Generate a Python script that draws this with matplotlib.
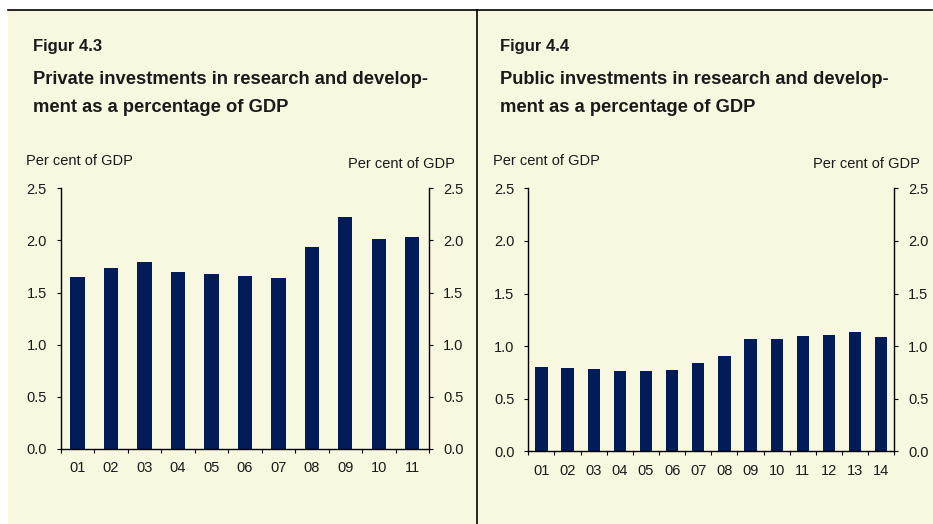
import matplotlib
matplotlib.use("Agg")
import matplotlib.pyplot as plt
from matplotlib.patches import Rectangle
from matplotlib.lines import Line2D

plt.rcParams['font.family'] = ['Liberation Sans', 'DejaVu Sans']

# Data
years_private = ['01', '02', '03', '04', '05', '06', '07', '08', '09', '10', '11']
private_rd = [1.65, 1.74, 1.79, 1.70, 1.68, 1.66, 1.64, 1.94, 2.22, 2.01, 2.03]

years_public = ['01', '02', '03', '04', '05', '06', '07', '08', '09', '10', '11', '12', '13', '14']
public_rd = [0.80, 0.79, 0.78, 0.76, 0.76, 0.77, 0.84, 0.91, 1.07, 1.07, 1.10, 1.11, 1.13, 1.09]

yticks = [0.0, 0.5, 1.0, 1.5, 2.0, 2.5]

W, H = 933, 524
BG = '#F8F7E0'
NAVY = '#021C5A'
TXT = '#1A1A1A'

fig = plt.figure(figsize=(W / 100, H / 100), dpi=100)
fig.patch.set_facecolor('white')


def px(x, y):
    # pixel coords (from top-left) -> figure fraction
    return x / W, 1 - y / H


# beige panel and frame lines
fig.patches.append(Rectangle((8 / W, 0), (W - 8) / W, (H - 10) / H,
                             transform=fig.transFigure, facecolor=BG,
                             edgecolor='none', zorder=-10))
fig.lines.append(Line2D([8 / W, 932 / W], [1 - 10 / H] * 2, transform=fig.transFigure,
                        color='black', lw=1.2, zorder=-5))
fig.lines.append(Line2D([477 / W] * 2, [0, 1 - 10 / H], transform=fig.transFigure,
                        color='black', lw=1.2, zorder=-5))


def make_panel(left, right, bottom, cats, vals, width, fig_no, title1, title2,
               tx, lab_l, lab_r):
    x0, y0 = px(left, bottom)
    x1, y1 = px(right, 188.3)
    ax = fig.add_axes([x0, y0, x1 - x0, y1 - y0])
    ax.set_facecolor('none')
    n = len(cats)
    pos = list(range(n))
    ax.bar(pos, vals, width=width, color=NAVY, zorder=2)
    ax.set_xlim(-0.5, n - 0.5)
    ax.set_ylim(0, 2.5)
    ax.set_yticks(yticks)
    ax.set_yticklabels([f'{v:.1f}' for v in yticks])
    ax.spines['top'].set_visible(False)
    for s in ['left', 'right', 'bottom']:
        ax.spines[s].set_linewidth(1.0)
        ax.spines[s].set_color('black')
    ax.tick_params(axis='y', which='both', left=True, right=True, labelleft=True,
                   labelright=True, direction='out', length=3, width=0.8,
                   pad=7, labelsize=10.5, labelcolor=TXT)
    ax.set_xticks([i - 0.5 for i in range(n + 1)])
    ax.set_xticklabels([])
    ax.set_xticks(pos, minor=True)
    ax.set_xticklabels(cats, minor=True)
    ax.tick_params(axis='x', which='major', direction='out', length=3, width=0.8)
    ax.tick_params(axis='x', which='minor', length=0, pad=9, labelsize=10.5,
                   labelcolor=TXT)

    fig.text(*px(tx, 47), fig_no, fontsize=12, fontweight='bold', color=TXT,
             va='center', ha='left')
    fig.text(*px(tx, 80), title1, fontsize=13.2, fontweight='bold', color=TXT,
             va='center', ha='left')
    fig.text(*px(tx, 108), title2, fontsize=13.2, fontweight='bold', color=TXT,
             va='center', ha='left')
    fig.text(*px(lab_l, 161), 'Per cent of GDP', fontsize=10.5, color=TXT,
             va='center', ha='left')
    fig.text(*px(lab_r, 164), 'Per cent of GDP', fontsize=10.5, color=TXT,
             va='center', ha='right')
    return ax


make_panel(60.7, 429, 449, years_private, private_rd, 0.43, 'Figur 4.3',
           'Private investments in research and develop-',
           'ment as a percentage of GDP', 33, 26, 455)
make_panel(528.3, 894.3, 451.3, years_public, public_rd, 0.47, 'Figur 4.4',
           'Public investments in research and develop-',
           'ment as a percentage of GDP', 500, 493, 920)

fig.savefig('out.png', dpi=100, facecolor=fig.get_facecolor())
